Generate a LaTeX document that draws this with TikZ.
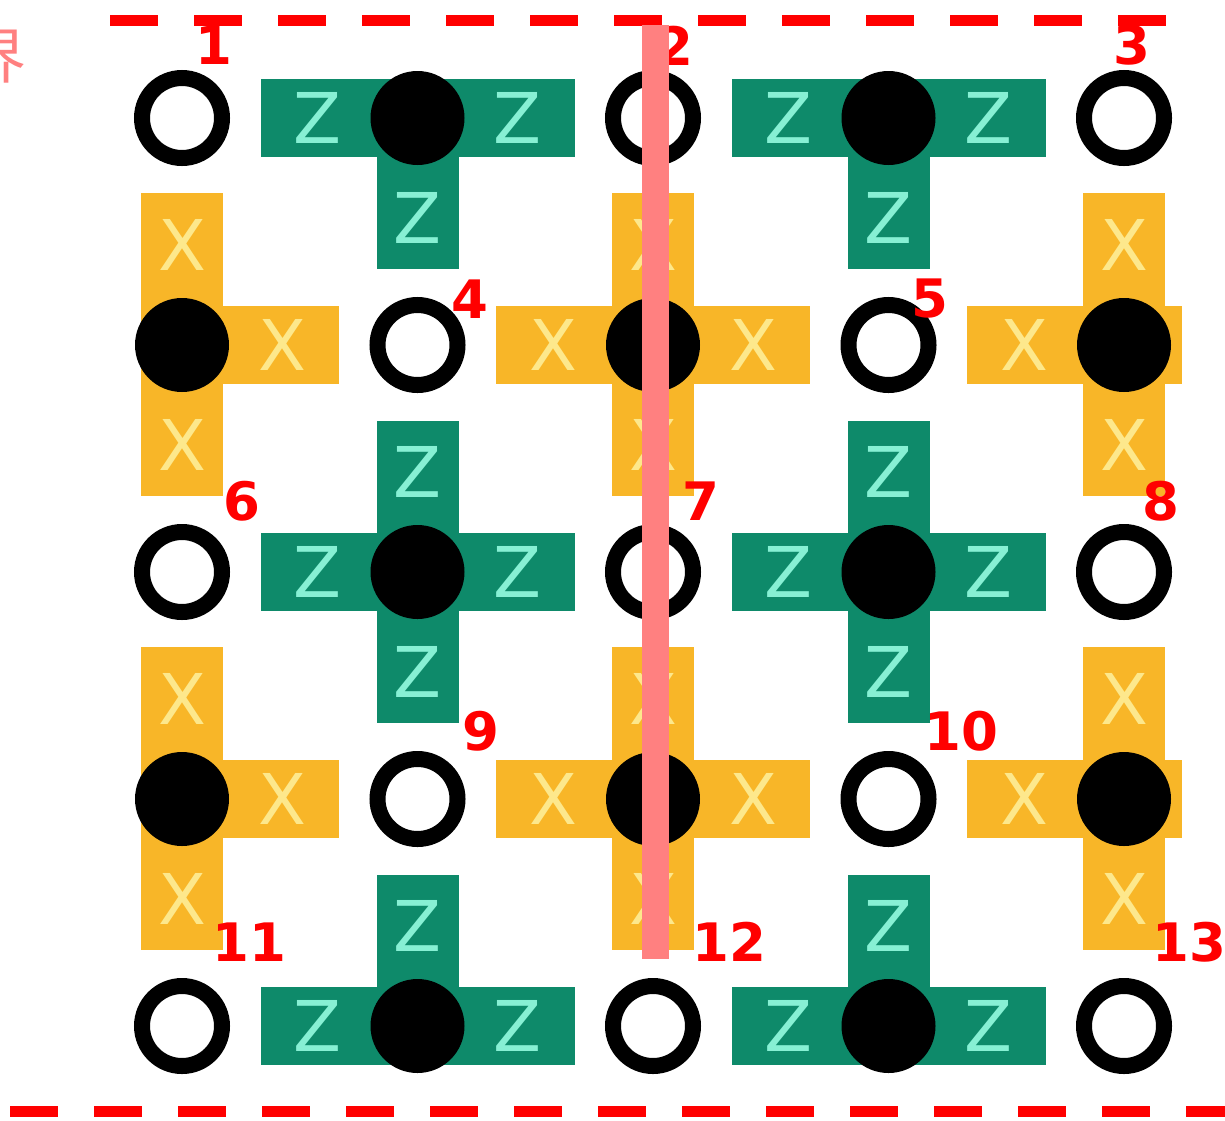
\documentclass[tikz,border=0pt]{standalone}
\usepackage{fontspec}
\setmainfont{DejaVu Sans}
\newfontfamily\cjkfont{Noto Sans CJK SC}
\definecolor{zgreen}{RGB}{14,138,106}
\definecolor{zlight}{RGB}{135,240,212}
\definecolor{xorange}{RGB}{248,182,40}
\definecolor{xlight}{RGB}{253,232,140}
\definecolor{pinkline}{RGB}{255,128,128}
\definecolor{redlab}{RGB}{255,0,0}
\begin{document}
\begin{tikzpicture}[x=1pt,y=-1pt,
  dataq/.style={circle,draw=black,line width=16pt,minimum size=80pt,inner sep=0pt,fill=white},
  ancq/.style={circle,fill=black,minimum size=94pt,inner sep=0pt},
  zletter/.style={text=zlight,inner sep=0pt,font=\fontsize{70}{70}\selectfont},
  xletter/.style={text=xlight,inner sep=0pt,font=\fontsize{70}{70}\selectfont},
  numlab/.style={text=redlab,inner sep=0pt,font=\fontsize{53}{53}\selectfont\bfseries},
  boundary/.style={draw=redlab,line width=11pt,dash pattern=on 48pt off 36pt},
  cutline/.style={draw=pinkline,line width=27pt}]
\useasboundingbox (0,0) rectangle (1225,1120);
\fill[white] (0,0) rectangle (1225,1120);

% ---------- Z plaquettes (green) ----------
% top row: left, right, down
\foreach \cx/\nm in {417.5/a,888.5/b}{
  \fill[zgreen] (\cx-157,118-39) rectangle (\cx+157,118+39);
  \fill[zgreen] (\cx-41,118) rectangle (\cx+41,118+151);
  \node[zletter] (zt\nm l) at (\cx-100,118) {Z};
  \node[zletter] (zt\nm r) at (\cx+100,118) {Z};
  \node[zletter] (zt\nm d) at (\cx,118+100) {Z};
}
% middle row: full cross
\foreach \cx/\nm in {417.5/a,888.5/b}{
  \fill[zgreen] (\cx-157,572-39) rectangle (\cx+157,572+39);
  \fill[zgreen] (\cx-41,572-151) rectangle (\cx+41,572+151);
  \node[zletter] (zm\nm l) at (\cx-100,572) {Z};
  \node[zletter] (zm\nm r) at (\cx+100,572) {Z};
  \node[zletter] (zm\nm u) at (\cx,572-100) {Z};
  \node[zletter] (zm\nm d) at (\cx,572+100) {Z};
}
% bottom row: left, right, up
\foreach \cx/\nm in {417.5/a,888.5/b}{
  \fill[zgreen] (\cx-157,1026-39) rectangle (\cx+157,1026+39);
  \fill[zgreen] (\cx-41,1026-151) rectangle (\cx+41,1026);
  \node[zletter] (zb\nm l) at (\cx-100,1026) {Z};
  \node[zletter] (zb\nm r) at (\cx+100,1026) {Z};
  \node[zletter] (zb\nm u) at (\cx,1026-100) {Z};
}

% ---------- X plaquettes (orange) ----------
\foreach \cy/\nm in {345/a,799/b}{
  % left column: up, down, right
  \fill[xorange] (182-41,\cy-152) rectangle (182+41,\cy+151);
  \fill[xorange] (182,\cy-39) rectangle (182+157,\cy+39);
  \node[xletter] (xl\nm u) at (182,\cy-100) {X};
  \node[xletter] (xl\nm d) at (182,\cy+100) {X};
  \node[xletter] (xl\nm r) at (182+100,\cy) {X};
  % middle column: full cross
  \fill[xorange] (653-41,\cy-152) rectangle (653+41,\cy+151);
  \fill[xorange] (653-157,\cy-39) rectangle (653+157,\cy+39);
  \node[xletter] (xm\nm u) at (653,\cy-100) {X};
  \node[xletter] (xm\nm d) at (653,\cy+100) {X};
  \node[xletter] (xm\nm l) at (653-100,\cy) {X};
  \node[xletter] (xm\nm r) at (653+100,\cy) {X};
  % right column: up, down, left, right cut at the edge
  \fill[xorange] (1124-41,\cy-152) rectangle (1124+41,\cy+151);
  \fill[xorange] (1124-157,\cy-39) rectangle (1182,\cy+39);
  \node[xletter] (xr\nm u) at (1124,\cy-100) {X};
  \node[xletter] (xr\nm d) at (1124,\cy+100) {X};
  \node[xletter] (xr\nm l) at (1124-100,\cy) {X};
}

% ---------- ancilla qubits (filled) ----------
\foreach \cx/\cy/\nm in {417.5/118/1,888.5/118/2,417.5/572/3,888.5/572/4,417.5/1026/5,888.5/1026/6,
                        182/345/7,653/345/8,1124/345/9,182/799/10,653/799/11,1124/799/12}{
  \node[ancq] (anc\nm) at (\cx,\cy) {};
}

% ---------- data qubits (open) ----------
\foreach \cx/\cy/\nm in {182/118/1,653/118/2,1124/118/3,417.5/345/4,888.5/345/5,
                        182/572/6,653/572/7,1124/572/8,417.5/799/9,888.5/799/10,
                        182/1026/11,653/1026/12,1124/1026/13}{
  \node[dataq] (q\nm) at (\cx,\cy) {};
}

% ---------- boundaries ----------
\coordinate (topL) at (110,20);
\coordinate (topR) at (1170,20);
\coordinate (botL) at (10,1111);
\coordinate (botR) at (1240,1111);
\draw[boundary] (topL) -- (topR);
\draw[boundary] (botL) -- (botR);

% ---------- labels ----------
\foreach \lx/\ly/\t in {214/45/1,675/46/2,1132/45/3,470/299/4,930/299/5,
                        242/501/6,701/501/7,1161/501/8,481/731/9,961/731/10,
                        249/942/11,729/942/12,1189/942/13}{
  \node[numlab] (n\t) at (\lx,\ly) {\t};
}

% ---------- cut line ----------
\coordinate (cutT) at (655.5,25);
\coordinate (cutB) at (655.5,959);
\draw[cutline] (cutT) -- (cutB);

% ---------- clipped character at left edge ----------
\node[text=pinkline,inner sep=0pt,font=\cjkfont\fontsize{60}{60}\selectfont] (jie) at (-3,57) {界};
\end{tikzpicture}
\end{document}
